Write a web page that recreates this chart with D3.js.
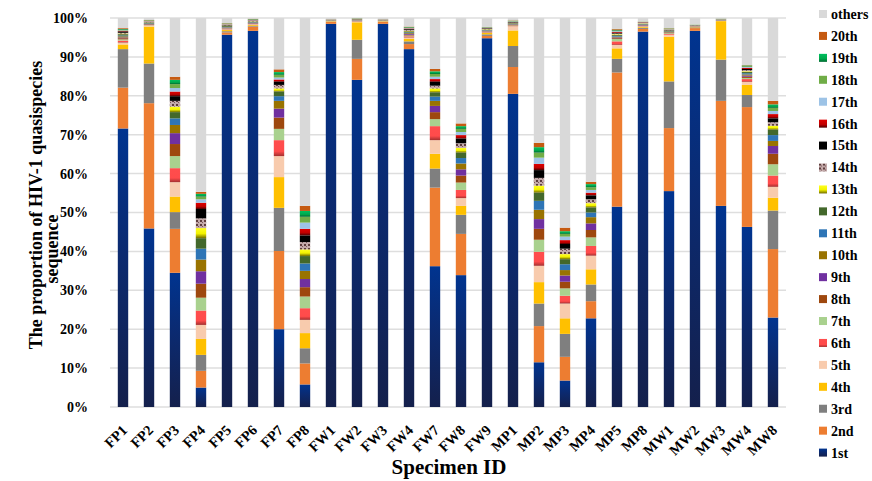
<!DOCTYPE html>
<html>
<head>
<meta charset="utf-8">
<script src="https://cdn.jsdelivr.net/npm/d3@7"></script>
<style>
  body { margin: 0; background: #fff; }
  text { font-family: "Liberation Serif", "Times New Roman", serif; font-weight: bold; fill: #000; }
</style>
</head>
<body>
<div id="chart"></div>
<script>
var specimens = ["FP1","FP2","FP3","FP4","FP5","FP6","FP7","FP8","FW1","FW2","FW3","FW4","FW7","FW8","FW9",
                 "MP1","MP2","MP3","MP4","MP5","MP8","MW1","MW2","MW3","MW4","MW8"];
var yTicks = [0,10,20,30,40,50,60,70,80,90,100];

// proportion (%) of each ranked quasispecies, one array per rank
var s1st  = [71.6,45.9,34.5,5.0,95.7,96.7,20.0,5.8,98.5,84.1,98.5,92.0,36.2,33.9,94.8,80.5,11.5,6.8,22.8,51.5,96.5,55.5,96.7,51.7,46.3,23.0];
var s2nd  = [10.5,32.2,11.3,4.3,0.6,1.1,20.1,5.4,0.5,5.4,0.5,1.3,20.2,10.6,0.6,6.9,9.3,6.1,4.4,34.5,0.7,16.2,0.7,27.0,30.8,17.6];
var s3rd  = [9.9,10.2,4.3,4.1,0.3,0.2,11.1,3.9,0.1,4.9,0.1,0.7,4.9,4.9,0.4,5.4,5.8,5.9,4.3,3.5,0.3,12.0,0.2,10.6,3.1,9.9];
var s4th  = [1.2,9.5,4.0,4.1,0.3,0.2,7.9,3.9,0.1,4.5,0.1,0.6,3.8,2.3,0.4,4.0,5.5,4.0,3.9,2.7,0.2,11.5,0.1,9.9,2.6,3.3];
var s5th  = [0.5,0.2,3.7,3.6,0.2,0.1,5.4,3.4,0.03,0.2,0.03,0.4,3.5,2.0,0.1,1.1,4.2,3.8,3.5,0.9,0.1,0.5,0.04,0.04,0.8,2.8];
var s6th  = [0.5,0.1,3.6,3.7,0.1,0.1,4.1,3.0,0.03,0.1,0.03,0.3,3.6,2.1,0.1,0.1,3.6,2.0,2.5,0.9,0.1,0.2,0.04,0.04,0.7,2.9];
var s7th  = [0.3,0.1,3.1,3.3,0.1,0.1,2.9,3.0,0.03,0.1,0.03,0.2,1.8,1.9,0.1,0.1,3.1,1.9,2.2,0.6,0.1,0.2,0.04,0.04,0.3,2.9];
var s8th  = [0.3,0.1,3.1,3.6,0.1,0.1,2.9,2.4,0.03,0.05,0.03,0.2,1.8,1.8,0.1,0.1,2.8,1.7,1.9,0.2,0.1,0.1,0.04,0.04,0.3,2.7];
var s9th  = [0.2,0.1,2.8,3.2,0.1,0.1,2.3,2.1,0.03,0.05,0.03,0.2,1.6,1.6,0.1,0.1,2.5,1.6,1.7,0.2,0.1,0.1,0.04,0.04,0.3,2.0];
var s10th = [0.3,0.1,2.1,3.0,0.1,0.1,2.0,2.1,0.03,0.05,0.03,0.2,1.3,1.5,0.1,0.1,2.4,1.4,1.6,0.2,0.1,0.1,0.04,0.04,0.3,1.3];
var s11th = [0.2,0.1,1.7,2.8,0.1,0.1,1.2,1.9,0.03,0.05,0.03,0.2,1.1,1.4,0.1,0.1,2.3,1.5,1.2,0.2,0.1,0.1,0.04,0.04,0.3,1.5];
var s12th = [0.3,0.1,1.6,2.7,0.2,0.1,1.2,1.9,0.03,0.05,0.03,0.2,1.1,1.4,0.1,0.1,2.1,1.3,1.3,0.2,0.1,0.1,0.04,0.04,0.3,1.4];
var s13th = [0.2,0.1,1.4,2.6,0.1,0.1,0.8,1.7,0.03,0.05,0.03,0.2,1.0,1.2,0.1,0.1,1.8,1.3,1.1,0.2,0.1,0.1,0.04,0.04,0.2,1.0];
var s14th = [0.2,0.1,1.5,2.5,0.1,0.1,0.9,1.9,0.03,0.05,0.03,0.2,0.7,1.2,0.1,0.1,2.0,1.4,1.0,0.2,0.1,0.1,0.04,0.04,0.3,0.9];
var s15th = [0.3,0.1,1.2,2.4,0.1,0.1,0.8,1.7,0.03,0.05,0.03,0.2,1.0,1.2,0.1,0.1,2.0,1.2,1.0,0.2,0.1,0.1,0.04,0.04,0.3,1.0];
var s16th = [0.2,0.1,1.2,1.6,0.1,0.1,0.6,1.7,0.03,0.05,0.03,0.2,0.7,0.9,0.1,0.1,1.6,1.0,0.7,0.2,0.1,0.1,0.04,0.04,0.3,1.1];
var s17th = [0.1,0.1,0.9,0.9,0.1,0.1,0.5,1.6,0.03,0.05,0.03,0.1,0.6,0.8,0.1,0.1,1.6,0.9,0.7,0.2,0.05,0.1,0.04,0.04,0.2,0.8];
var s18th = [0.2,0.1,1.0,0.7,0.1,0.1,0.7,1.5,0.03,0.05,0.03,0.2,0.7,0.8,0.1,0.1,1.3,0.7,0.7,0.2,0.05,0.1,0.04,0.04,0.2,0.8];
var s19th = [0.2,0.1,1.1,0.7,0.1,0.1,0.7,1.5,0.03,0.05,0.03,0.1,0.7,0.7,0.05,0.1,1.4,0.7,0.8,0.2,0.05,0.1,0.04,0.04,0.2,0.9];
var s20th = [0.2,0.1,0.8,0.5,0.1,0.1,0.7,1.3,0.03,0.05,0.03,0.1,0.6,0.7,0.05,0.1,1.1,0.9,0.6,0.2,0.05,0.1,0.04,0.04,0.1,0.9];
var others = [2.6,0.5,15.1,44.7,1.3,0.2,13.2,48.3,0.3,0.1,0.3,2.2,13.1,27.1,2.3,0.6,32.1,53.9,42.1,2.8,0.9,2.6,1.7,0.2,12.1,21.3];

var seriesNames = ["1st","2nd","3rd","4th","5th","6th","7th","8th","9th","10th","11th","12th","13th","14th",
                   "15th","16th","17th","18th","19th","20th","others"];
var seriesValues = [s1st,s2nd,s3rd,s4th,s5th,s6th,s7th,s8th,s9th,s10th,s11th,s12th,s13th,s14th,
                    s15th,s16th,s17th,s18th,s19th,s20th,others];
var colors = ["url(#g1st)","#ed7d31","#7f7f7f","#ffc000","#f8cbad","url(#g6th)","#a9d18e","#9e480e","#7030a0",
              "#997300","#2e75b6","#43682b","url(#g13th)","url(#p14th)","#000000","url(#g16th)","#9dc3e6",
              "#70ad47","url(#g19th)","#c55a11","#d9d9d9"];

var rows = specimens.map(function(s, i) {
  var r = {id: s};
  seriesNames.forEach(function(k, j) { r[k] = seriesValues[j][i]; });
  return r;
});

var width = 872, height = 481;
var svg = d3.select("#chart").append("svg").attr("width", width).attr("height", height);

var defs = svg.append("defs");
function vgrad(id, stops) {
  var g = defs.append("linearGradient").attr("id", id)
    .attr("x1", 0).attr("y1", 0).attr("x2", 0).attr("y2", 1);
  stops.forEach(function(s) {
    g.append("stop").attr("offset", s[0]).attr("stop-color", s[1]);
  });
}
vgrad("g1st", [[0, "#003490"], [0.45, "#0b2a70"], [1, "#14204c"]]);
vgrad("g6th", [[0, "#ff4d4d"], [0.7, "#ff4b4b"], [1, "#a3302f"]]);
vgrad("g13th", [[0, "#ffff20"], [0.55, "#f2f200"], [1, "#6f6a00"]]);
vgrad("g16th", [[0, "#e00000"], [0.6, "#c00000"], [1, "#4a0000"]]);
vgrad("g19th", [[0, "#00c060"], [0.6, "#00a84c"], [1, "#006a30"]]);

var pat = defs.append("pattern").attr("id", "p14th")
  .attr("width", 4).attr("height", 4).attr("patternUnits", "userSpaceOnUse");
pat.append("rect").attr("width", 4).attr("height", 4).attr("fill", "#c4aaaa");
pat.append("rect").attr("x", 0).attr("y", 0).attr("width", 2).attr("height", 2).attr("fill", "#5e3e3e");
pat.append("rect").attr("x", 2).attr("y", 2).attr("width", 1).attr("height", 1).attr("fill", "#7a5858");

var x = d3.scaleBand().domain(specimens).range([110, 786]).paddingInner(0.6).paddingOuter(0.3);
var y = d3.scaleLinear().domain([0, 100]).range([407, 18]);

// gridlines
svg.append("g").selectAll("line")
  .data(yTicks)
  .enter()
  .append("line")
    .attr("x1", 110).attr("x2", 786)
    .attr("y1", function(d) { return y(d); })
    .attr("y2", function(d) { return y(d); })
    .attr("stroke", "#dedede")
    .attr("stroke-width", 1.5);

// y tick labels
svg.append("g").selectAll("text")
  .data(yTicks)
  .enter()
  .append("text")
    .attr("x", 88)
    .attr("y", function(d) { return y(d); })
    .attr("dy", "0.35em")
    .attr("text-anchor", "end")
    .style("font-size", "14px")
    .text(function(d) { return d + "%"; });

var stack = d3.stack().keys(seriesNames);
var layers = stack(rows);

svg.append("g").selectAll("g")
  .data(layers)
  .enter()
  .append("g")
    .attr("fill", function(d, i) { return colors[i]; })
  .selectAll("rect")
  .data(function(d) { return d; })
  .enter()
  .append("rect")
    .attr("x", function(d) { return x(d.data.id); })
    .attr("width", x.bandwidth())
    .attr("y", function(d) { return y(d[1]); })
    .attr("height", function(d) { return Math.max(0, y(d[0]) - y(d[1])); });

// category labels
svg.append("g").selectAll("text")
  .data(specimens)
  .enter()
  .append("text")
    .attr("transform", function(d) {
      return "translate(" + (x(d) + x.bandwidth() / 2 - 2) + ",424) rotate(-45)";
    })
    .attr("text-anchor", "end")
    .attr("dy", "0.7em")
    .style("font-size", "14.5px")
    .text(function(d) { return d; });

svg.append("text")
  .attr("x", 449).attr("y", 474)
  .attr("text-anchor", "middle")
  .style("font-size", "21px")
  .text("Specimen ID");

var yt = svg.append("g").attr("transform", "rotate(-90)");
yt.append("text")
  .attr("x", -205).attr("y", 42)
  .attr("text-anchor", "middle")
  .style("font-size", "18px")
  .text("The proportion of  HIV-1 quasispecies");
yt.append("text")
  .attr("x", -249).attr("y", 58)
  .attr("text-anchor", "middle")
  .style("font-size", "18px")
  .text("sequence");

// legend, top = others, bottom = 1st
var legend = svg.append("g").selectAll("g")
  .data(seriesNames.slice().reverse())
  .enter()
  .append("g")
    .attr("transform", function(d, i) { return "translate(819," + (14 + i * 21.93) + ")"; });
legend.append("rect")
  .attr("x", 0).attr("y", -4)
  .attr("width", 8).attr("height", 8)
  .attr("fill", function(d) { return colors[seriesNames.indexOf(d)]; });
legend.append("text")
  .attr("x", 12).attr("dy", "0.35em")
  .style("font-size", "14px")
  .text(function(d) { return d; });
</script>
</body>
</html>
